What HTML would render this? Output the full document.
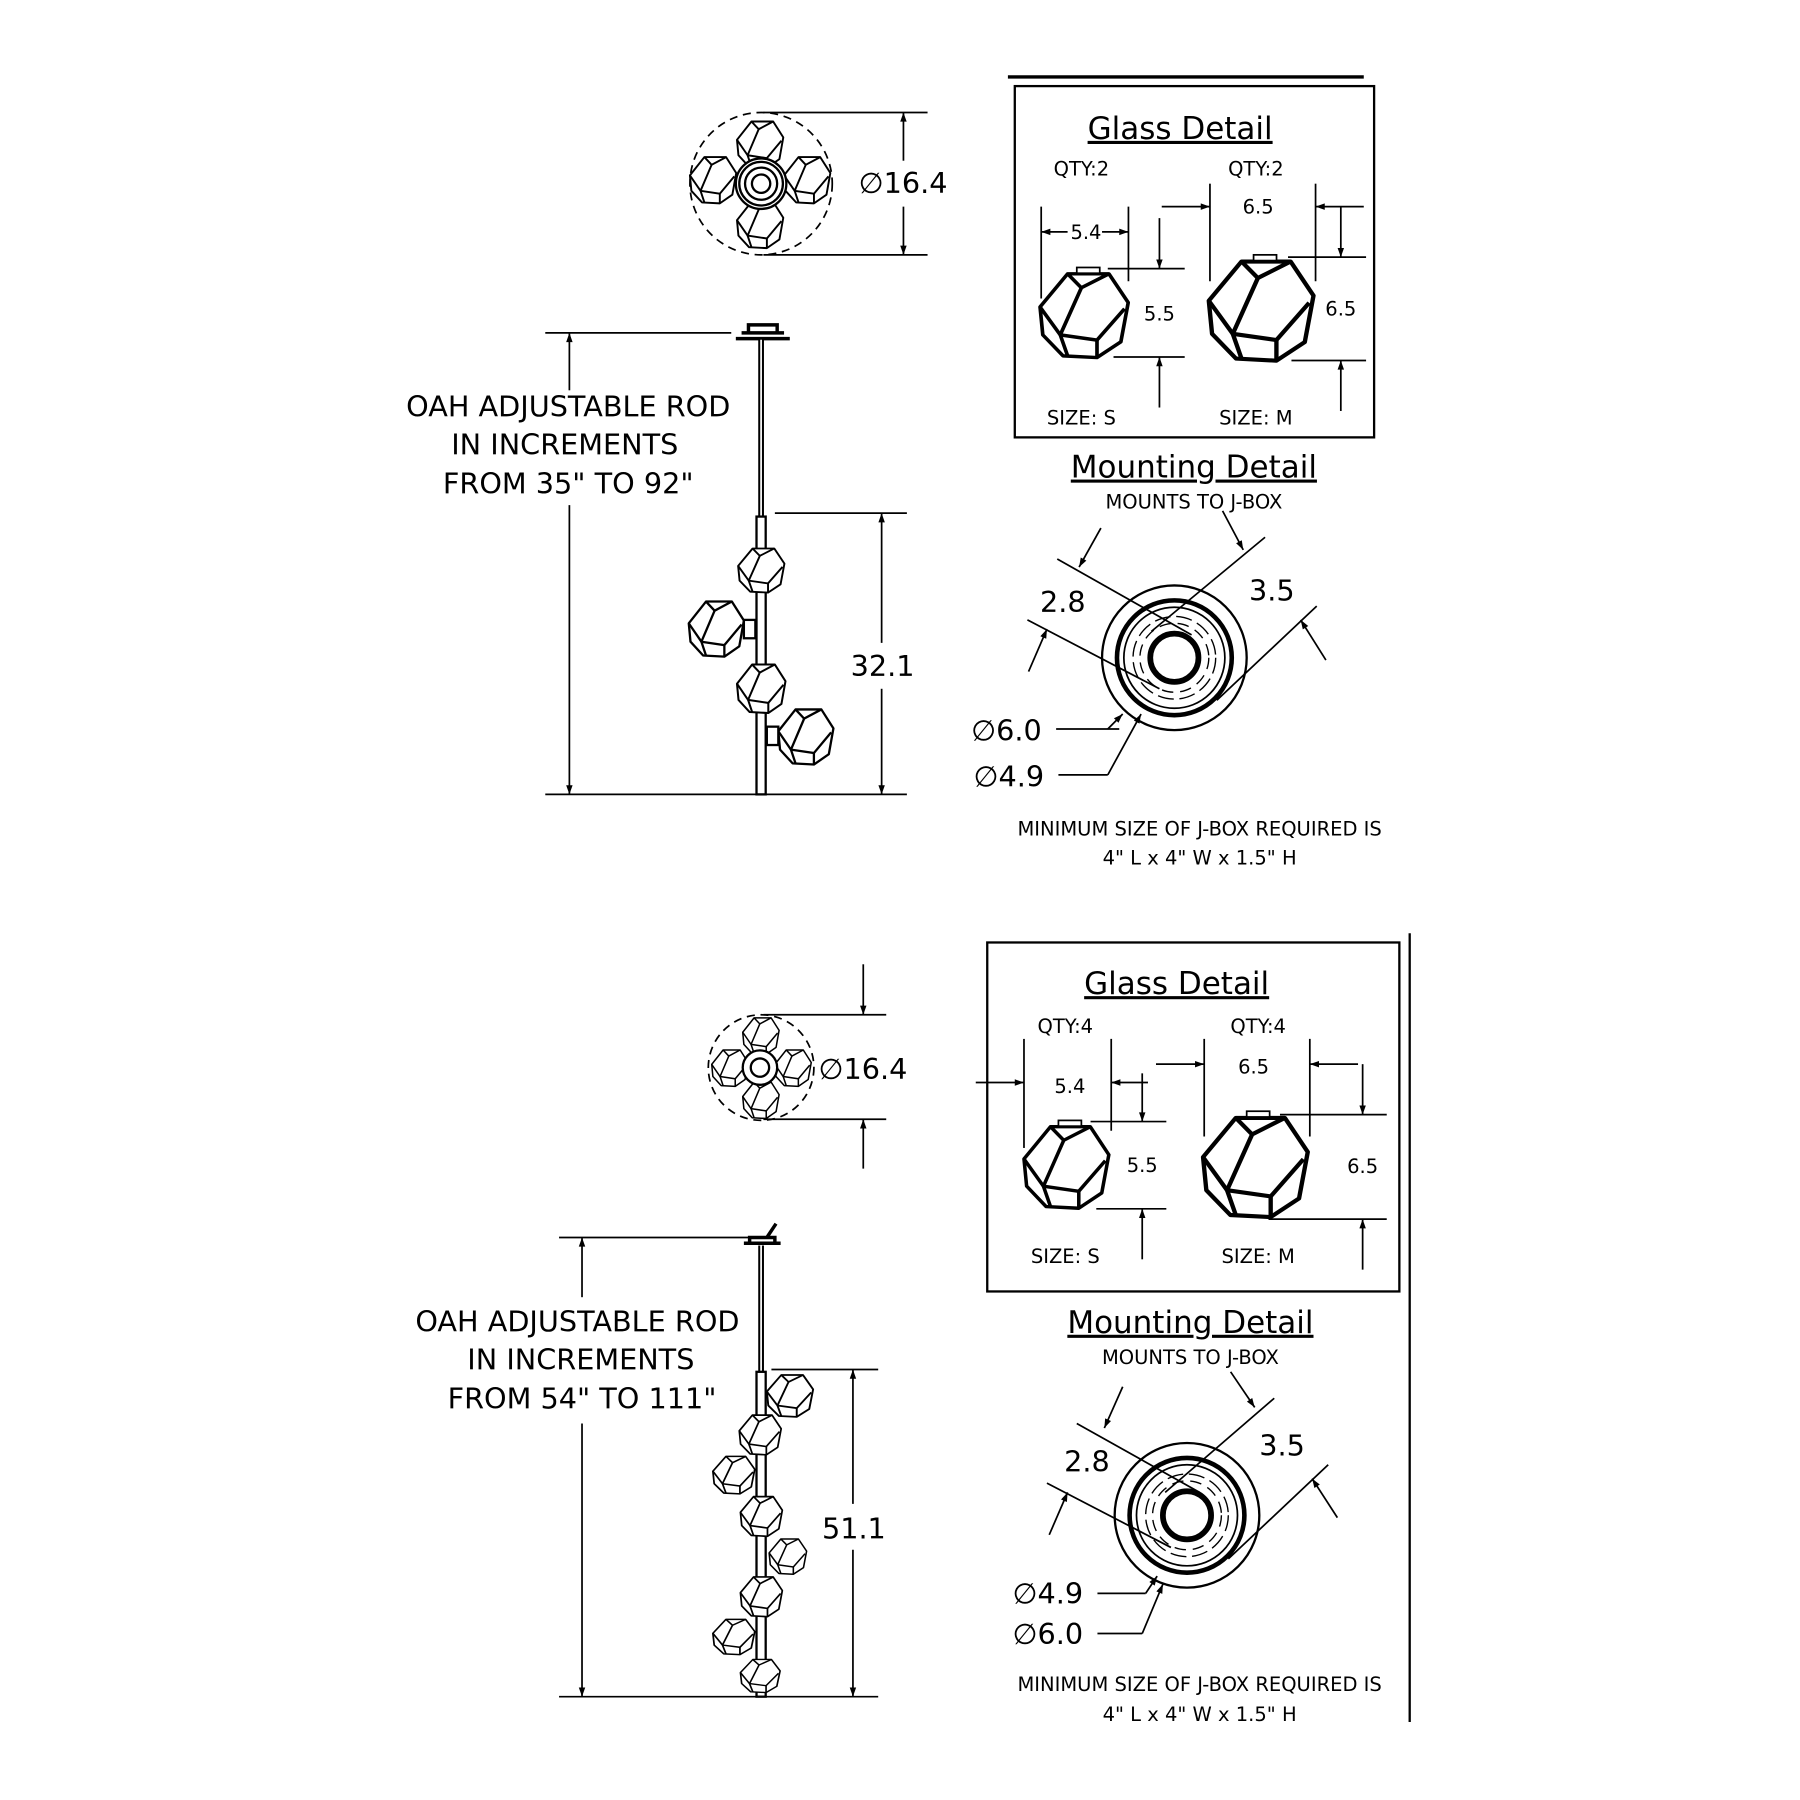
<!DOCTYPE html>
<html><head><meta charset="utf-8"><style>
html,body{margin:0;padding:0;background:#fff}
svg{display:block}
text{font-family:"DejaVu Sans","Liberation Sans",sans-serif;fill:#000}
</style></head><body>
<svg width="1800" height="1800" viewBox="0 0 1568 1568" xmlns="http://www.w3.org/2000/svg">
<defs>
<marker id="a" viewBox="0 0 10 10" refX="10" refY="5" markerWidth="12" markerHeight="8" markerUnits="userSpaceOnUse" orient="auto-start-reverse"><path d="M0,1.5 L10,5 L0,8.5z" fill="#000"/></marker>
<g id="gem">
<polygon points="30,2 75,2 96,35 88,80 62,98 25,96 3,72 0,40" fill="#fff" stroke="#000" stroke-width="4" stroke-linejoin="round"/>
<polyline points="75,2 45,18 22,72 30,96" fill="none" stroke="#000" stroke-width="4"/>
<polyline points="30,2 45,18" fill="none" stroke="#000" stroke-width="4"/>
<polyline points="22,72 62,78 92,42" fill="none" stroke="#000" stroke-width="4"/>
<polyline points="62,78 62,98" fill="none" stroke="#000" stroke-width="4"/>
<polyline points="0,40 22,72" fill="none" stroke="#000" stroke-width="4"/>
</g>
<g id="mount">
<circle r="63" fill="none" stroke="#000" stroke-width="2"/>
<circle r="50" fill="none" stroke="#000" stroke-width="4"/>
<circle r="44" fill="none" stroke="#000" stroke-width="1.5"/>
<circle r="36" fill="none" stroke="#000" stroke-width="1.2" stroke-dasharray="14 5"/>
<circle r="30" fill="none" stroke="#000" stroke-width="1.2" stroke-dasharray="10 6"/>
<circle r="21" fill="#fff" stroke="#000" stroke-width="5"/>
</g>
<g id="top">
<circle r="8" fill="none" stroke="#000" stroke-width="2"/>
<circle r="14" fill="none" stroke="#000" stroke-width="2"/>
<circle r="19" fill="none" stroke="#000" stroke-width="2"/>
</g>
</defs>
<g stroke="#000" fill="none" stroke-width="1.5">

<!-- ===== TOP SECTION ===== -->
<circle cx="663" cy="160" r="62" stroke-dasharray="7 5"/>
<use href="#gem" transform="translate(642,105) scale(0.42)"/>
<use href="#gem" transform="translate(642,175) scale(0.42)"/>
<use href="#gem" transform="translate(601,136) scale(0.42)"/>
<use href="#gem" transform="translate(683,136) scale(0.42)"/>
<circle cx="663" cy="160" r="22" fill="#fff" stroke-width="2"/>
<use href="#top" transform="translate(663,160)"/>
<line x1="665" y1="98" x2="808" y2="98"/>
<line x1="665" y1="222" x2="808" y2="222"/>
<line x1="787" y1="140" x2="787" y2="98" marker-end="url(#a)"/>
<line x1="787" y1="180" x2="787" y2="222" marker-end="url(#a)"/>
<line x1="878" y1="67" x2="1188" y2="67" stroke-width="3"/>
<rect x="884" y="75" width="313" height="306" stroke-width="2"/>

<!-- glass S -->
<use href="#gem" transform="translate(906,237) scale(0.8,0.76)"/>
<rect x="938" y="233" width="20" height="5" fill="#fff"/>
<line x1="907" y1="180" x2="907" y2="260"/>
<line x1="983" y1="180" x2="983" y2="245"/>
<line x1="930" y1="202" x2="907" y2="202" marker-end="url(#a)"/>
<line x1="960" y1="202" x2="983" y2="202" marker-end="url(#a)"/>
<line x1="965" y1="234" x2="1032" y2="234"/>
<line x1="970" y1="311" x2="1032" y2="311"/>
<line x1="1010" y1="190" x2="1010" y2="234" marker-end="url(#a)"/>
<line x1="1010" y1="355" x2="1010" y2="311" marker-end="url(#a)"/>
<!-- glass M -->
<use href="#gem" transform="translate(1053,226) scale(0.95,0.9)"/>
<rect x="1092" y="222" width="20" height="5" fill="#fff"/>
<line x1="1054" y1="160" x2="1054" y2="245"/>
<line x1="1146" y1="160" x2="1146" y2="245"/>
<line x1="1012" y1="180" x2="1054" y2="180" marker-end="url(#a)"/>
<line x1="1188" y1="180" x2="1146" y2="180" marker-end="url(#a)"/>
<line x1="1122" y1="224" x2="1190" y2="224"/>
<line x1="1125" y1="314" x2="1190" y2="314"/>
<line x1="1168" y1="180" x2="1168" y2="224" marker-end="url(#a)"/>
<line x1="1168" y1="358" x2="1168" y2="314" marker-end="url(#a)"/>

<!-- mount top -->
<use href="#mount" transform="translate(1023,573)"/>
<line x1="921" y1="487" x2="1038" y2="553"/>
<line x1="895" y1="540" x2="1010" y2="600"/>
<line x1="959" y1="460" x2="940" y2="494" marker-end="url(#a)"/>
<line x1="896" y1="585" x2="912" y2="548" marker-end="url(#a)"/>
<line x1="1003" y1="550" x2="1102" y2="468"/>
<line x1="1060" y1="610" x2="1147" y2="528"/>
<line x1="1065" y1="445" x2="1083" y2="479" marker-end="url(#a)"/>
<line x1="1155" y1="575" x2="1133" y2="540" marker-end="url(#a)"/>
<line x1="920" y1="635" x2="975" y2="635"/>
<line x1="965" y1="635" x2="978" y2="622" marker-end="url(#a)"/>
<line x1="922" y1="675" x2="965" y2="675"/>
<line x1="965" y1="675" x2="994" y2="622" marker-end="url(#a)"/>

<!-- elevation top -->
<path d="M641,295 h47 M646,290 h37 M652,283 h25 v7 h-25z" stroke-width="3"/>
<line x1="663" y1="296" x2="663" y2="450" stroke-width="5"/>
<line x1="663" y1="296" x2="663" y2="450" stroke="#fff" stroke-width="1.5"/>
<rect x="659" y="450" width="8" height="242" stroke-width="2" fill="#fff"/>
<use href="#gem" transform="translate(643,477) scale(0.42,0.4)"/>
<use href="#gem" transform="translate(600,523) scale(0.5,0.5)"/>
<rect x="648" y="540" width="10" height="16" fill="#fff" stroke-width="2"/>
<use href="#gem" transform="translate(642,578) scale(0.44,0.44)"/>
<use href="#gem" transform="translate(678,617) scale(0.5,0.5)"/>
<rect x="668" y="633" width="10" height="16" fill="#fff" stroke-width="2"/>
<line x1="475" y1="290" x2="637" y2="290"/>
<line x1="475" y1="692" x2="790" y2="692"/>
<line x1="675" y1="447" x2="790" y2="447"/>
<line x1="496" y1="340" x2="496" y2="290" marker-end="url(#a)"/>
<line x1="496" y1="440" x2="496" y2="692" marker-end="url(#a)"/>
<line x1="768" y1="560" x2="768" y2="447" marker-end="url(#a)"/>
<line x1="768" y1="600" x2="768" y2="692" marker-end="url(#a)"/>

<!-- ===== BOTTOM SECTION ===== -->
<circle cx="663" cy="930" r="46" stroke-dasharray="7 5"/>
<use href="#gem" transform="translate(647,886) scale(0.33)"/>
<use href="#gem" transform="translate(647,942) scale(0.33)"/>
<use href="#gem" transform="translate(620,914) scale(0.33)"/>
<use href="#gem" transform="translate(675,914) scale(0.33)"/>
<circle cx="662" cy="930" r="15" fill="#fff" stroke-width="2"/>
<circle cx="662" cy="930" r="8" stroke-width="2"/>
<line x1="665" y1="884" x2="772" y2="884"/>
<line x1="665" y1="975" x2="772" y2="975"/>
<line x1="752" y1="840" x2="752" y2="884" marker-end="url(#a)"/>
<line x1="752" y1="1018" x2="752" y2="975" marker-end="url(#a)"/>
<rect x="860" y="821" width="359" height="304" stroke-width="2"/>
<line x1="1228" y1="813" x2="1228" y2="1500" stroke-width="2"/>

<use href="#gem" transform="translate(892,980) scale(0.77,0.74)"/>
<rect x="922" y="976" width="20" height="5" fill="#fff"/>
<line x1="892" y1="905" x2="892" y2="1000"/>
<line x1="968" y1="905" x2="968" y2="985"/>
<line x1="850" y1="943" x2="892" y2="943" marker-end="url(#a)"/>
<line x1="1000" y1="943" x2="968" y2="943" marker-end="url(#a)"/>
<line x1="950" y1="977" x2="1016" y2="977"/>
<line x1="955" y1="1053" x2="1016" y2="1053"/>
<line x1="995" y1="935" x2="995" y2="977" marker-end="url(#a)"/>
<line x1="995" y1="1097" x2="995" y2="1053" marker-end="url(#a)"/>

<use href="#gem" transform="translate(1048,972) scale(0.95,0.9)"/>
<rect x="1086" y="968" width="20" height="5" fill="#fff"/>
<line x1="1049" y1="905" x2="1049" y2="990"/>
<line x1="1141" y1="905" x2="1141" y2="990"/>
<line x1="1007" y1="927" x2="1049" y2="927" marker-end="url(#a)"/>
<line x1="1183" y1="927" x2="1141" y2="927" marker-end="url(#a)"/>
<line x1="1115" y1="971" x2="1208" y2="971"/>
<line x1="1105" y1="1062" x2="1208" y2="1062"/>
<line x1="1187" y1="927" x2="1187" y2="971" marker-end="url(#a)"/>
<line x1="1187" y1="1106" x2="1187" y2="1062" marker-end="url(#a)"/>

<use href="#mount" transform="translate(1034,1320)"/>
<line x1="938" y1="1240" x2="1045" y2="1300"/>
<line x1="912" y1="1292" x2="1020" y2="1348"/>
<line x1="978" y1="1208" x2="962" y2="1244" marker-end="url(#a)"/>
<line x1="914" y1="1337" x2="930" y2="1300" marker-end="url(#a)"/>
<line x1="1015" y1="1300" x2="1110" y2="1218"/>
<line x1="1070" y1="1358" x2="1157" y2="1276"/>
<line x1="1072" y1="1195" x2="1093" y2="1226" marker-end="url(#a)"/>
<line x1="1165" y1="1322" x2="1143" y2="1288" marker-end="url(#a)"/>
<line x1="956" y1="1388" x2="998" y2="1388"/>
<line x1="998" y1="1388" x2="1008" y2="1373" marker-end="url(#a)"/>
<line x1="956" y1="1423" x2="995" y2="1423"/>
<line x1="995" y1="1423" x2="1013" y2="1380" marker-end="url(#a)"/>

<path d="M648,1083 h32 M653,1078 h22 v5 h-22z M668,1078 l8,-12" stroke-width="3"/>
<line x1="663" y1="1085" x2="663" y2="1195" stroke-width="5"/>
<line x1="663" y1="1085" x2="663" y2="1195" stroke="#fff" stroke-width="1.5"/>
<rect x="659" y="1195" width="8" height="283" stroke-width="2" fill="#fff"/>
<use href="#gem" transform="translate(668,1197) scale(0.42,0.38)"/>
<use href="#gem" transform="translate(644,1232) scale(0.38,0.36)"/>
<use href="#gem" transform="translate(621,1268) scale(0.38,0.34)"/>
<use href="#gem" transform="translate(645,1303) scale(0.38,0.36)"/>
<use href="#gem" transform="translate(670,1340) scale(0.34,0.32)"/>
<use href="#gem" transform="translate(645,1373) scale(0.38,0.36)"/>
<use href="#gem" transform="translate(621,1410) scale(0.38,0.32)"/>
<use href="#gem" transform="translate(645,1445) scale(0.36,0.3)"/>
<line x1="487" y1="1078" x2="652" y2="1078"/>
<line x1="487" y1="1478" x2="765" y2="1478"/>
<line x1="672" y1="1193" x2="765" y2="1193"/>
<line x1="507" y1="1130" x2="507" y2="1078" marker-end="url(#a)"/>
<line x1="507" y1="1240" x2="507" y2="1478" marker-end="url(#a)"/>
<line x1="743" y1="1310" x2="743" y2="1193" marker-end="url(#a)"/>
<line x1="743" y1="1350" x2="743" y2="1478" marker-end="url(#a)"/>
</g>

<g font-size="17" text-anchor="middle">
<text x="942" y="153">QTY:2</text><text x="1094" y="153">QTY:2</text>
<text x="946" y="208">5.4</text><text x="1096" y="186">6.5</text>
<text x="1010" y="279">5.5</text><text x="1168" y="275">6.5</text>
<text x="942" y="370">SIZE: S</text><text x="1094" y="370">SIZE: M</text>
<text x="1040" y="443">MOUNTS TO J-BOX</text>
<text x="1045" y="728">MINIMUM SIZE OF J-BOX REQUIRED IS</text>
<text x="1045" y="753">4" L x 4" W x 1.5" H</text>
<text x="928" y="900">QTY:4</text><text x="1096" y="900">QTY:4</text>
<text x="932" y="952">5.4</text><text x="1092" y="935">6.5</text>
<text x="995" y="1021">5.5</text><text x="1187" y="1022">6.5</text>
<text x="928" y="1100">SIZE: S</text><text x="1096" y="1100">SIZE: M</text>
<text x="1037" y="1188">MOUNTS TO J-BOX</text>
<text x="1045" y="1473">MINIMUM SIZE OF J-BOX REQUIRED IS</text>
<text x="1045" y="1499">4" L x 4" W x 1.5" H</text>
</g>
<g font-size="27" text-anchor="middle" text-decoration="underline">
<text x="1028" y="121">Glass Detail</text>
<text x="1040" y="416">Mounting Detail</text>
<text x="1025" y="866">Glass Detail</text>
<text x="1037" y="1161">Mounting Detail</text>
</g>
<g font-size="25">
<text x="748" y="168">∅16.4</text>
<text x="713" y="940">∅16.4</text>
<text x="906" y="533">2.8</text><text x="1088" y="523">3.5</text>
<text x="846" y="645">∅6.0</text><text x="848" y="685">∅4.9</text>
<text x="927" y="1282">2.8</text><text x="1097" y="1268">3.5</text>
<text x="882" y="1397">∅4.9</text><text x="882" y="1432">∅6.0</text>
<text x="741" y="589">32.1</text><text x="716" y="1340">51.1</text>
</g>
<g font-size="25" text-anchor="middle">
<text x="495" y="363">OAH ADJUSTABLE ROD</text>
<text x="492" y="396">IN INCREMENTS</text>
<text x="495" y="430">FROM 35" TO 92"</text>
<text x="503" y="1160">OAH ADJUSTABLE ROD</text>
<text x="506" y="1193">IN INCREMENTS</text>
<text x="507" y="1227">FROM 54" TO 111"</text>
</g>
</svg>
</body></html>
